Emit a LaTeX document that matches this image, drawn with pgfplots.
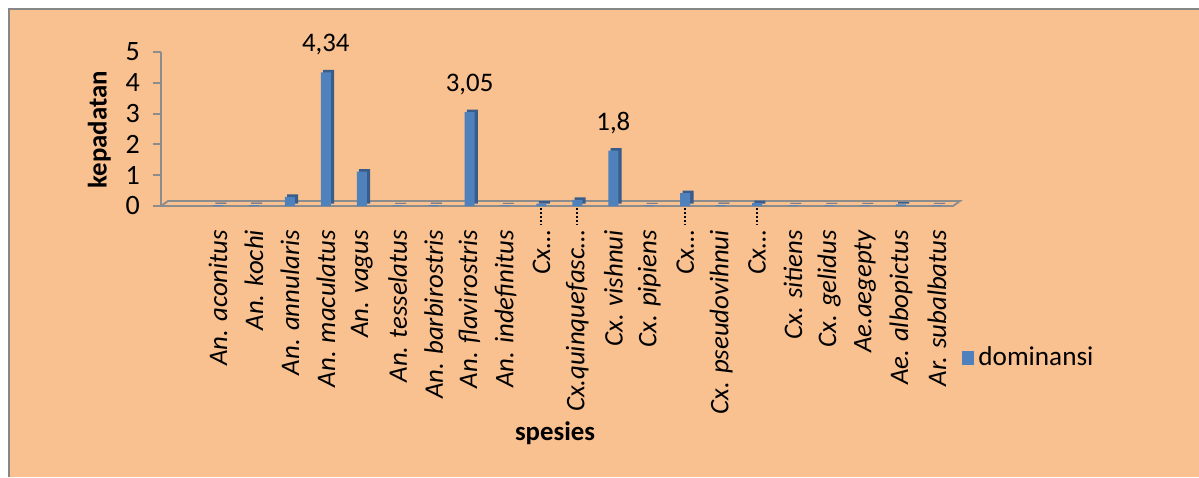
\documentclass[border=0pt]{standalone}
\usepackage{pgfplots}
\pgfplotsset{compat=1.18}
\usepackage{fontspec}
\setmainfont{Carlito}
\definecolor{bg}{HTML}{F9C090}
\definecolor{barblue}{HTML}{4F81BD}
\definecolor{bardark}{HTML}{385D8A}
\definecolor{frame}{HTML}{878787}
\definecolor{axgray}{HTML}{8C8C8C}
\pgfplotstableread{
x y
0 0.03
1 0.03
2 0.3
3 4.34
4 1.12
5 0.02
6 0.03
7 3.05
8 0.02
9 0.08
10 0.2
11 1.8
12 0.02
13 0.42
14 0.03
15 0.1
16 0.02
17 0.02
18 0.02
19 0.05
20 0.02
}\dominansi
\begin{document}
\begin{tikzpicture}
\useasboundingbox (0pt,0pt) rectangle (599.5pt,-238.5pt);
\fill[white] (0pt,0pt) rectangle (599.5pt,-238.5pt);
\fill[bg] (4.5pt,-4.5pt) rectangle (599.5pt,-238.5pt);
\draw[frame, line width=1.2pt] (4.5pt,-238.5pt) -- (4.5pt,-4.5pt) -- (599.5pt,-4.5pt);
\begin{axis}[
  at={(80.5pt,-103pt)}, anchor=south west,
  scale only axis, width=396pt, height=77pt,
  xmin=-1.586, xmax=20.45, ymin=0, ymax=5,
  axis lines*=left,
  x axis line style={draw=none},
  y axis line style={axgray, line width=1pt},
  ytick={0,1,2,3,4,5},
  xtick={0,...,20},
  xticklabels={An. aconitus, An. kochi, An. annularis, An. maculatus, An. vagus, An. tesselatus, An. barbirostris, An. flavirostris, An. indefinitus, Cx…, Cx.quinquefasc…, Cx. vishnui, Cx. pipiens, Cx…, Cx. pseudovihnui, Cx…, Cx. sitiens, Cx. gelidus, Ae.aegepty, Ae. albopictus, Ar. subalbatus},
  xtick style={draw=none},
  ytick style={axgray, line width=1pt},
  tick align=outside, major tick length=4pt,
  /pgf/number format/assume math mode=true,
  yticklabel style={font=\fontsize{14}{15}\selectfont, xshift=-3pt},
  xticklabel style={font=\fontsize{13.4}{15}\selectfont\itshape, rotate=90, anchor=east, xshift=-4.5pt},
  ylabel={\textbf{kepadatan}},
  ylabel style={font=\fontsize{13.4}{15}\selectfont, at={(axis description cs:-0.078,0.494)}, anchor=center, rotate=0},
  xlabel={\textbf{spesies}},
  xlabel style={font=\fontsize{13.4}{15}\selectfont, at={(axis description cs:0.4975,-1.474)}, anchor=center},
  legend style={draw=none, fill=none, at={(axis description cs:1.003,-0.987)}, anchor=west, font=\fontsize{13.6}{15}\selectfont},
  legend image code/.code={\fill[barblue] (0pt,-3.5pt) rectangle (6.3pt,3.5pt);},
  clip=false,
]
\draw[axgray, line width=0.9pt] (axis cs:-1.586,0) -- (axis cs:20.45,0) -- ([shift={(3.5pt,2.5pt)}]axis cs:20.45,0) -- ([shift={(3.5pt,2.5pt)}]axis cs:-1.586,0) -- cycle;
\draw[axgray, line width=1pt] (axis cs:-1.586,0) -- ([xshift=-4pt]axis cs:-1.586,0);
\addplot[ybar, bar width=5.5pt, bar shift=1.4pt, fill=bardark, draw=none, forget plot, yshift=1.2pt] table[x=x,y=y] {\dominansi};
\addplot[ybar, bar width=5pt, fill=barblue, draw=none] table[x=x,y=y] {\dominansi};
\addlegendentry{dominansi}
\addplot[draw=none, forget plot, nodes near coords, point meta=explicit symbolic,
  nodes near coords style={font=\fontsize{13.4}{15}\selectfont, anchor=center, yshift=14pt}]
  coordinates {(3,4.34) [4,34] (7,3.05) [3,05] (11,1.8) [1,8]};
\draw[black, densely dotted, line width=1pt] ([yshift=-1pt]axis cs:9,0) -- ([yshift=-9.5pt]axis cs:9,0);
\draw[black, densely dotted, line width=1pt] ([yshift=-1pt]axis cs:10,0) -- ([yshift=-9.5pt]axis cs:10,0);
\draw[black, densely dotted, line width=1pt] ([yshift=-1pt]axis cs:13,0) -- ([yshift=-9.5pt]axis cs:13,0);
\draw[black, densely dotted, line width=1pt] ([yshift=-1pt]axis cs:15,0) -- ([yshift=-9.5pt]axis cs:15,0);
\end{axis}
\end{tikzpicture}
\end{document}
